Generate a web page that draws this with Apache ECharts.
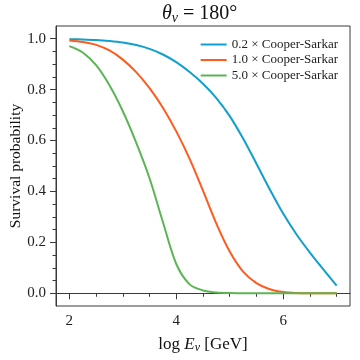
<!DOCTYPE html>
<html><head><meta charset="utf-8">
<script src="https://cdn.jsdelivr.net/npm/echarts@6/dist/echarts.min.js"></script>
<style>html,body{margin:0;padding:0;background:#fff}#c{width:360px;height:360px}</style>
</head><body><div id="c"></div>
<script>
const logE = [2.0,2.25,2.5,2.75,3.0,3.25,3.5,3.75,4.0,4.25,4.5,4.75,5.0,5.25,5.5,5.75,6.0,6.25,6.5,6.75,7.0];
const cs02 = [0.998,0.997,0.995,0.991,0.985,0.975,0.960,0.938,0.908,0.869,0.823,0.767,0.696,0.608,0.509,0.408,0.313,0.231,0.160,0.094,0.030];
const cs10 = [0.993,0.987,0.976,0.954,0.918,0.869,0.806,0.729,0.636,0.528,0.403,0.274,0.164,0.085,0.040,0.016,0.005,0.0012,0.0002,0.0,0.0];
const cs50 = [0.971,0.946,0.896,0.817,0.715,0.592,0.452,0.280,0.115,0.035,0.011,0.003,0.001,0.0,0.0,0.0,0.0,0.0,0.0,0.0,0.0];
const seriesNames = ['0.2 × Cooper-Sarkar','1.0 × Cooper-Sarkar','5.0 × Cooper-Sarkar'];
const xMajor = [2,4,6];
const xMinor = [2,2.5,3,3.5,4,4.5,5,5.5,6,6.5,7];
const yMajor = [0,0.2,0.4,0.6,0.8,1.0];
const yMinor = [0,0.05,0.1,0.15,0.2,0.25,0.3,0.35,0.4,0.45,0.5,0.55,0.6,0.65,0.7,0.75,0.8,0.85,0.9,0.95,1.0];
const colors = ['#109fce','#ff5b1f','#5cb553'];
const FONT = 'Liberation Serif';
const AX = '#3a3a3a';

function pairs(arr){ return logE.map((x,i)=>[x,arr[i]]); }

const chart = echarts.init(document.getElementById('c'));
const baseX = {type:'value', min:1.75, max:7.25, gridIndex:0, position:'bottom', offset:0, splitLine:{show:false}};
const baseY = {type:'value', min:-0.05, max:1.05, gridIndex:0, position:'left', offset:0, splitLine:{show:false}};
chart.setOption({
  animation:false,
  color: colors,
  title:{
    text:'{i|θ}{s|ν} = 180°',
    left:157, top:-3,
    textStyle:{
      fontFamily:FONT, fontSize:20, fontWeight:'normal', color:'#111',
      rich:{
        i:{fontFamily:FONT, fontStyle:'italic', fontSize:20, color:'#111'},
        s:{fontFamily:FONT, fontStyle:'italic', fontSize:14, padding:[9,0,0,0], color:'#111'}
      }
    }
  },
  grid:{left:56, right:10, top:26, bottom:54, containLabel:false, outerBoundsMode:'none',
        show:true, borderColor:AX, borderWidth:1},
  legend:{
    orient:'vertical', right:17, top:33, itemWidth:26, itemHeight:2, itemGap:2.5,
    textStyle:{fontFamily:FONT, fontSize:13, color:'#222', lineHeight:13},
    data: seriesNames.map(n=>({name:n, icon:'rect'}))
  },
  xAxis:[
    Object.assign({}, baseX, {
      name:'{t|log }{i|E}{s|ν}{t| [GeV]}', nameLocation:'middle', nameGap:29,
      nameTextStyle:{fontFamily:FONT, fontSize:17, color:'#111',
        rich:{t:{fontFamily:FONT,fontSize:17,color:'#111'}, i:{fontFamily:FONT,fontStyle:'italic',fontSize:17,color:'#111'},
              s:{fontFamily:FONT,fontStyle:'italic',fontSize:12,color:'#111',padding:[7,0,0,0]}}},
      axisLine:{show:true, lineStyle:{color:AX}},
      axisTick:{show:true, length:6, customValues:xMajor, lineStyle:{color:AX}},
      axisLabel:{show:true, customValues:xMajor, margin:8, fontFamily:FONT, fontSize:15, color:'#222'}
    }),
    Object.assign({}, baseX, {
      axisLine:{show:false},
      axisTick:{show:true, length:3.5, customValues:xMinor, lineStyle:{color:AX}},
      axisLabel:{show:false}
    })
  ],
  yAxis:[
    Object.assign({}, baseY, {
      name:'Survival probability', nameLocation:'middle', nameGap:32, nameRotate:90, nameMoveOverlap:false,
      nameTextStyle:{fontFamily:FONT, fontSize:15.5, color:'#111'},
      axisLine:{show:true, lineStyle:{color:AX}},
      axisTick:{show:true, length:6, customValues:yMajor, lineStyle:{color:AX}},
      axisLabel:{show:true, customValues:yMajor, margin:10, fontFamily:FONT, fontSize:15, color:'#222',
        formatter:v=>v.toFixed(1)}
    }),
    Object.assign({}, baseY, {
      axisLine:{show:false},
      axisTick:{show:true, length:3.5, customValues:yMinor, lineStyle:{color:AX}},
      axisLabel:{show:false}
    })
  ],
  series:[
    {name:seriesNames[0], type:'line', data:pairs(cs02), smooth:0.3, symbol:'none', lineStyle:{width:2}},
    {name:seriesNames[1], type:'line', data:pairs(cs10), smooth:0.3, symbol:'none', lineStyle:{width:2}},
    {name:seriesNames[2], type:'line', data:pairs(cs50), smooth:0.3, symbol:'none', lineStyle:{width:2}}
  ]
});
</script></body></html>
